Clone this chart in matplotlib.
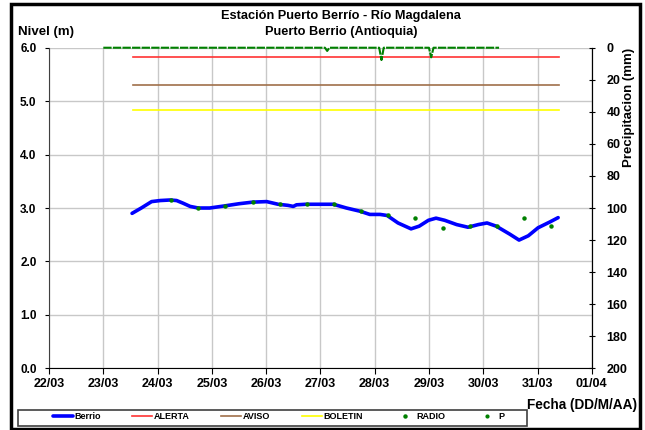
import matplotlib
matplotlib.use('Agg')
import matplotlib.pyplot as plt
import matplotlib.dates as mdates
from matplotlib.patches import Rectangle
from matplotlib.lines import Line2D
import pandas as pd

plt.rcParams['font.family'] = ['Liberation Sans', 'DejaVu Sans']
plt.rcParams['font.weight'] = 'bold'
plt.rcParams['font.size'] = 9

# Datos (dia de marzo con fraccion, nivel en m)
berrio_dia = [23.53, 23.70, 23.89, 24.05, 24.23, 24.35, 24.47, 24.60, 24.75, 24.96,
              25.10, 25.24, 25.50, 25.75, 26.01, 26.22, 26.40, 26.50, 26.56, 26.73,
              26.99, 27.24, 27.48, 27.73, 27.91, 28.10, 28.23, 28.43, 28.67, 28.82,
              28.99, 29.13, 29.29, 29.51, 29.72, 29.91, 30.07, 30.24, 30.49, 30.66,
              30.83, 31.01, 31.23, 31.38]
berrio_nivel = [2.90, 3.00, 3.12, 3.14, 3.15, 3.14, 3.09, 3.03, 3.00, 3.00,
                3.02, 3.04, 3.08, 3.11, 3.12, 3.07, 3.05, 3.03, 3.06, 3.07,
                3.07, 3.07, 3.00, 2.94, 2.88, 2.88, 2.86, 2.72, 2.61, 2.66,
                2.77, 2.81, 2.77, 2.69, 2.64, 2.69, 2.72, 2.66, 2.51, 2.40,
                2.48, 2.63, 2.74, 2.82]

radio_dia = [24.25, 24.75, 25.25, 25.75, 26.25, 26.75, 27.25, 27.75,
             28.25, 28.75, 29.25, 29.75, 30.25, 30.75, 31.25]
radio_nivel = [3.15, 3.00, 3.04, 3.11, 3.08, 3.07, 3.07, 2.94,
               2.86, 2.81, 2.63, 2.66, 2.66, 2.81, 2.67]

# Umbrales (nivel) y tramo en que se dibujan
umbral_dia = [23.55, 31.40]
alerta = 5.82
aviso = 5.30
boletin = 4.83

# Precipitacion horaria: cero salvo tres eventos
p_inicio = '2011-03-23 00:00'
p_fin = '2011-03-30 07:00'
p_eventos = {'2011-03-27 03:00': 2.0, '2011-03-28 03:00': 7.7, '2011-03-29 01:00': 6.0}


def a_fecha(dias):
    return [pd.Timestamp('2011-03-01') + pd.Timedelta(days=d - 1) for d in dias]


p_horas = pd.date_range(p_inicio, p_fin, freq='h')
p_mm = pd.Series(0.0, index=p_horas)
for t, v in p_eventos.items():
    p_mm[pd.Timestamp(t)] = v

fig = plt.figure(figsize=(6.45, 4.3), dpi=100)
ax = fig.add_axes([0.076, 0.1435, 0.8415, 0.7455])
ax2 = ax.twinx()

ax.plot(a_fecha(berrio_dia), berrio_nivel, color='#0000ff', lw=2.6, label='Berrio',
        zorder=3, solid_joinstyle='round', solid_capstyle='round')
ax.plot(a_fecha(umbral_dia), [alerta, alerta], color='#ff3333', lw=1.2, label='ALERTA')
ax.plot(a_fecha(umbral_dia), [aviso, aviso], color='#a0704a', lw=1.2, label='AVISO')
ax.plot(a_fecha(umbral_dia), [boletin, boletin], color='#ffff00', lw=1.2, label='BOLETIN')
ax.plot(a_fecha(radio_dia), radio_nivel, ls='none', marker='o', ms=2.2,
        color='#008000', label='RADIO', zorder=4)

ax2.plot(p_mm.index, p_mm.values, color='#008000', lw=1.5, ls=(0, (4, 0.6)),
         label='P', clip_on=False)

# Ejes
x0 = pd.Timestamp('2011-03-22')
x1 = pd.Timestamp('2011-04-01')
ax.set_xlim(x0, x1)
ax.set_ylim(0, 6)
ax.set_yticks([0, 1, 2, 3, 4, 5, 6])
ax.yaxis.set_major_formatter(plt.FormatStrFormatter('%.1f'))
ax.xaxis.set_major_locator(mdates.DayLocator())
ax.xaxis.set_major_formatter(mdates.DateFormatter('%d/%m'))
ax.grid(True, color='#c8c8c8', lw=1)
ax.set_axisbelow(True)

ax2.set_ylim(200, 0)
ax2.set_yticks(range(0, 201, 20))
ax2.set_xlim(x0, x1)

for a in (ax, ax2):
    a.spines['top'].set_visible(False)
ax.spines['left'].set_color('#404040')
ax.spines['bottom'].set_color('black')
ax2.spines['right'].set_color('black')
ax.tick_params(axis='y', length=3, direction='out', pad=6, labelsize=8.5)
ax.tick_params(axis='x', length=4, direction='out', pad=3, labelsize=9)
ax2.tick_params(axis='y', length=5, direction='inout', pad=8, labelsize=9)
ax2.spines['left'].set_visible(False)
ax2.spines['bottom'].set_visible(False)

fig.text(0.529, 0.963, 'Estación Puerto Berrío - Río Magdalena', ha='center', va='center', fontsize=9.2)
fig.text(0.529, 0.926, 'Puerto Berrio (Antioquia)', ha='center', va='center', fontsize=9.2)
fig.text(0.028, 0.925, 'Nivel (m)', ha='left', va='center', fontsize=9.5)
fig.text(0.975, 0.751, 'Precipitacion (mm)', rotation=90, ha='center', va='center', fontsize=9.5)
fig.text(0.987, 0.058, 'Fecha (DD/M/AA)', ha='right', va='center', fontsize=9.8)

# Leyenda
h1, l1 = ax.get_legend_handles_labels()
handles = h1 + [Line2D([], [], ls='none', marker='o', ms=2, color='#008000')]
labels = l1 + ['P']
leg = fig.legend(handles, labels, ncol=6, loc='center left',
                 bbox_to_anchor=(0.072, 0.013, 0.72, 0.035), mode='expand',
                 fontsize=6.5, frameon=False, handlelength=2.2,
                 handletextpad=0.2, borderpad=0.2)
fig.patches.append(Rectangle((0.028, 0.009), 0.789, 0.037, transform=fig.transFigure,
                             fill=False, edgecolor='#404040', lw=1.2))

# Marco del grafico
fig.patches.append(Rectangle((0.017, 0.003), 0.975, 0.988, transform=fig.transFigure,
                             fill=False, edgecolor='black', lw=2.5))

fig.savefig('out.png', dpi=100)
